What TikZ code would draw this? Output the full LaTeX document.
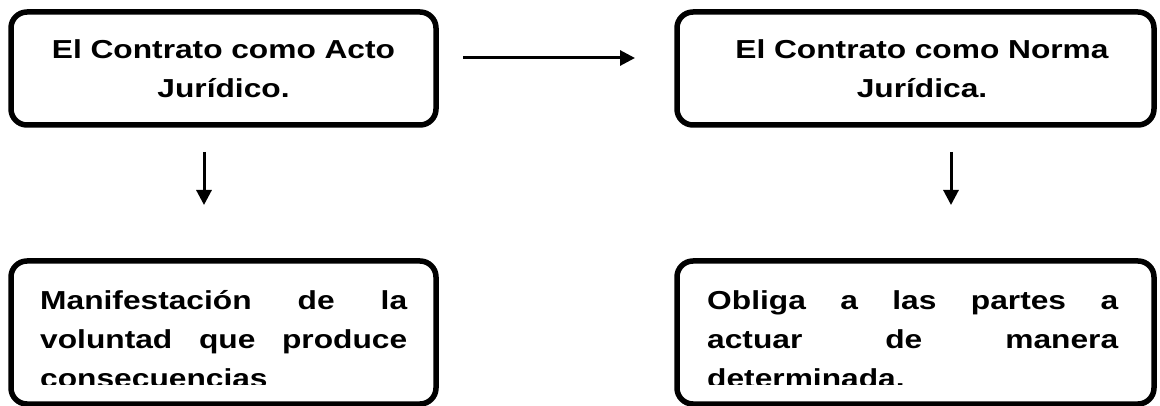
\documentclass[tikz,border=0pt]{standalone}
\usepackage{fontspec}
\setmainfont{Liberation Sans}[FakeStretch=1.22]
\usetikzlibrary{arrows.meta}
\hyphenpenalty=10000
\exhyphenpenalty=10000
\tolerance=10000
\begin{document}
\begin{tikzpicture}[x=1pt,y=-1pt,
  box/.style={draw=black, line width=5.5pt, rounded corners=16pt, fill=white, inner sep=0pt},
  ttl/.style={font=\fontsize{26}{39}\selectfont\bfseries, align=center, text width=#1, inner sep=0pt, anchor=base},
  body/.style={font=\fontsize{26}{39}\selectfont\bfseries, align=justify, text width=#1, inner sep=0pt, anchor=base west},
  arr/.style={line width=3pt, -{Triangle[length=15pt,width=15pt]}}]
\useasboundingbox (0,0) rectangle (1160,406);
\fill[white] (0,0) rectangle (1160,406);

% boxes
\node[box, minimum width=425pt, minimum height=113pt] (tl) at (223.5,68.5) {};
\node[box, minimum width=477pt, minimum height=113pt] (tr) at (915.5,68.5) {};
\node[box, minimum width=425pt, minimum height=143pt] (bl) at (223.5,332.5) {};
\node[box, minimum width=477pt, minimum height=143pt] (br) at (915.5,332.5) {};

% titles
\node[ttl=420pt] (tltext) at (223.5,59) {El Contrato como Acto\\Jurídico.};
\node[ttl=460pt] (trtext) at (922,59) {El Contrato como Norma\\Jurídica.};

% bodies (clipped at the bottom, as in the reference)
\begin{scope}
\clip (0,0) rectangle (1160,384);
\node[body=367pt] (bltext) at (40,309) {Manifestación de la\linebreak voluntad que produce\linebreak consecuencias};
\node[body=411pt] (brtext) at (707,309) {Obliga a las partes a\linebreak actuar de manera\linebreak determinada.};
\end{scope}

% connectors
\coordinate (h1) at (463,58);
\coordinate (h2) at (635,58);
\coordinate (l1) at (204,152);
\coordinate (l2) at (204,205);
\coordinate (r1) at (951,152);
\coordinate (r2) at (951,205);
\draw[arr] (h1) -- (h2);
\draw[arr] (l1) -- (l2);
\draw[arr] (r1) -- (r2);
\end{tikzpicture}
\end{document}
